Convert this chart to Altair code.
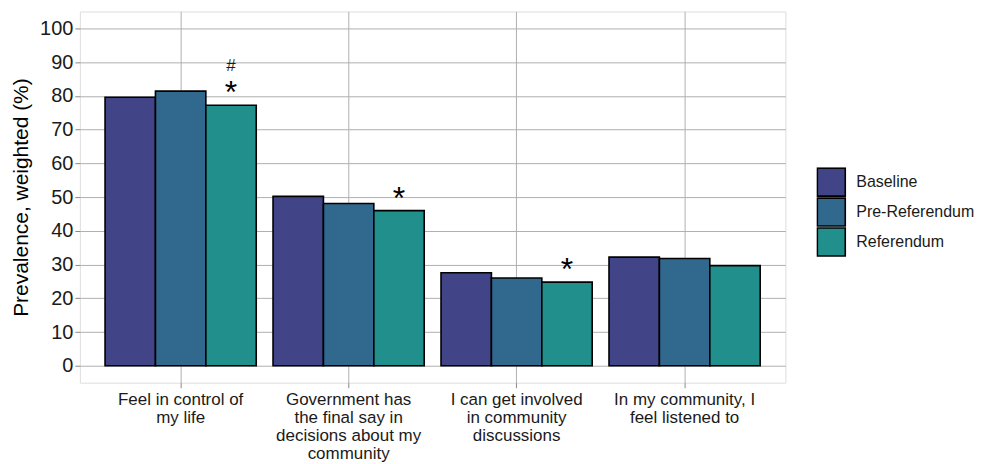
import altair as alt
import pandas as pd

categories = [
    "Feel in control of\nmy life",
    "Government has\nthe final say in\ndecisions about my\ncommunity",
    "I can get involved\nin community\ndiscussions",
    "In my community, I\nfeel listened to",
]
series = ["Baseline", "Pre-Referendum", "Referendum"]
baseline = [79.6, 50.2, 27.6, 32.2]
pre_referendum = [81.4, 48.1, 26.0, 31.8]
referendum = [77.2, 46.0, 24.8, 29.7]
colors = ["#414487", "#31688E", "#21908C"]
y_ticks = list(range(0, 101, 10))

# significance markers (on the Referendum bar)
star_flags = [True, True, True, False]
hash_flags = [True, False, False, False]

rows = []
for i, c in enumerate(categories):
    for s, vals in zip(series, [baseline, pre_referendum, referendum]):
        rows.append({"category": c, "series": s, "value": vals[i]})
df = pd.DataFrame(rows)

stars = pd.DataFrame([
    {"category": c, "series": "Referendum", "value": referendum[i], "label": "*"}
    for i, c in enumerate(categories) if star_flags[i]
])
hashes = pd.DataFrame([
    {"category": c, "series": "Referendum", "value": referendum[i], "label": "#"}
    for i, c in enumerate(categories) if hash_flags[i]
])

FONT = "Liberation Sans"

x_axis = alt.Axis(
    title=None, labelExpr="split(datum.label, '\\n')", labelAngle=0,
    labelFontSize=17, labelLineHeight=18, labelColor="#1a1a1a",
    labelPadding=4, bandPosition=0.5, tickSize=5, tickColor="#888888",
    grid=True, gridColor="#b0b0b0", gridWidth=1, domain=False,
    labelFont=FONT, labelOverlap=False,
)
y_axis = alt.Axis(
    values=y_ticks, title="Prevalence, weighted (%)", titleFontSize=21,
    titleFont=FONT, titleFontWeight="normal", titleColor="#000000",
    titlePadding=8, labelFontSize=20, labelFont=FONT, labelColor="#1a1a1a",
    labelPadding=2, tickSize=5, tickColor="#888888", grid=True,
    gridColor="#b0b0b0", gridWidth=1, domain=False, labelOverlap=False,
)
x_enc = alt.X(
    "category:N", sort=categories,
    scale=alt.Scale(domain=categories, paddingInner=0.1, paddingOuter=0.15),
    axis=x_axis,
)
xo_enc = alt.XOffset("series:N", sort=series,
                     scale=alt.Scale(domain=series, paddingInner=0, paddingOuter=0))
y_scale = alt.Scale(domain=[-5, 105], nice=False, zero=False)
y_enc = alt.Y("value:Q", scale=y_scale, axis=y_axis)

bars = alt.Chart(df).mark_bar(stroke="black", strokeWidth=1.6).encode(
    x=x_enc,
    xOffset=xo_enc,
    y=y_enc,
    y2=alt.datum(0),
    color=alt.Color("series:N", sort=series,
                    scale=alt.Scale(domain=series, range=colors),
                    legend=alt.Legend(
                        title=None, orient="none", legendX=738, legendY=156,
                        symbolType="square", symbolSize=784, symbolStrokeColor="black",
                        symbolStrokeWidth=1.6, symbolOpacity=1, labelFontSize=16,
                        labelFont=FONT, labelColor="#1a1a1a", rowPadding=0,
                        clipHeight=30, labelOffset=10, padding=0,
                    )),
)

star_text = alt.Chart(stars).mark_text(
    fontSize=32, font=FONT, baseline="alphabetic", dy=-2, color="black"
).encode(x=x_enc, xOffset=xo_enc, y=y_enc, text="label:N")

hash_text = alt.Chart(hashes).mark_text(
    fontSize=17, font=FONT, baseline="alphabetic", dy=-34, color="#1a1a1a"
).encode(x=x_enc, xOffset=xo_enc, y=y_enc, text="label:N")

chart = alt.layer(bars, star_text, hash_text).properties(
    width=707, height=372,
    padding={"left": 72, "top": 3, "right": 190, "bottom": 81},
    autosize=alt.AutoSizeParams(type="none"),
).configure_view(stroke="#888888", strokeWidth=1).configure(background="white")

chart.save("out.html", embed_options={"renderer": "svg", "actions": False})
